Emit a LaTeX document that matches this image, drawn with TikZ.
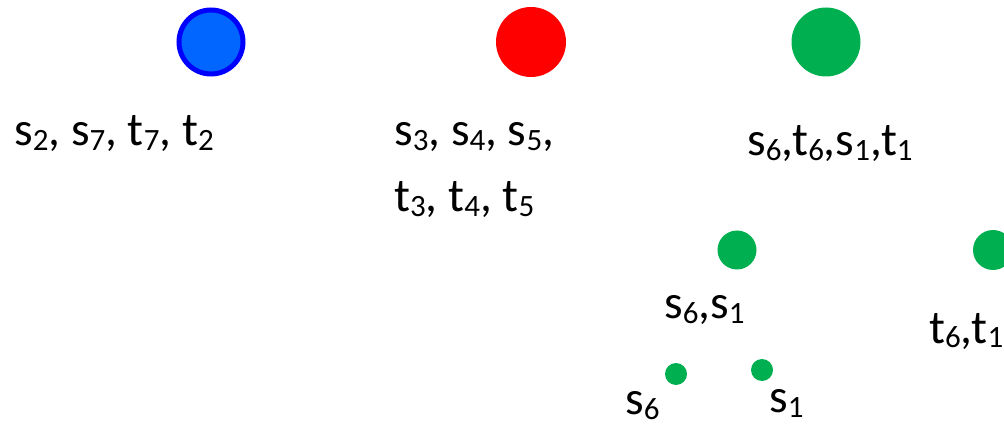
\documentclass[tikz,border=0pt]{standalone}
\usepackage{fontspec}
\setmainfont{Carlito}
\usepackage{xcolor}
\usepackage{tikz}
\usetikzlibrary{positioning}
\definecolor{dotblue}{HTML}{0066FF}
\definecolor{rimblue}{HTML}{0000FF}
\definecolor{dotred}{HTML}{FF0000}
\definecolor{dotgreen}{HTML}{00B050}
\newcommand{\subtxt}[1]{\raisebox{-5pt}{\fontsize{31}{31}\selectfont #1}}
\tikzset{
  dot/.style={circle, inner sep=0pt, draw=none},
  lbl/.style={anchor=base west, inner sep=0pt, font=\fontsize{47.5}{56}\selectfont}
}

\begin{document}
\begin{tikzpicture}[x=1pt,y=-1pt]
\useasboundingbox (0,0) rectangle (1004,430);
\node[dot,fill=dotblue,draw=rimblue,line width=5pt,minimum size=64pt] (blue) at (211,42) {};
\node[dot,fill=dotred,minimum size=70pt] (red) at (531,42) {};
\node[dot,fill=dotgreen,minimum size=69pt] (green) at (826,42) {};
\node[dot,fill=dotgreen,minimum size=39pt] (gs) at (737,250) {};
\node[dot,fill=dotgreen,minimum size=40pt] (gt) at (993,250) {};
\node[dot,fill=dotgreen,minimum size=22pt] (gsa) at (676,374) {};
\node[dot,fill=dotgreen,minimum size=22pt] (gsb) at (762,370) {};

\node[lbl] (bluelbl) at (14,146) {s\subtxt{2}, s\subtxt{7}, t\subtxt{7}, t\subtxt{2}};
\node[lbl] (redlbla) at (394,146) {s\subtxt{3}, s\subtxt{4}, s\subtxt{5},};
\node[lbl] (redlblb) at (394,212) {t\subtxt{3}, t\subtxt{4}, t\subtxt{5}};
\node[lbl] (greenlbl) at (747,156) {s\subtxt{6},t\subtxt{6},s\subtxt{1},t\subtxt{1}};
\node[lbl] (gslbl) at (664,319) {s\subtxt{6},s\subtxt{1}};
\node[lbl] (gtlbl) at (929,343) {t\subtxt{6},t\subtxt{1}};
\node[lbl] (gsalbl) at (625,414) {s\subtxt{6}};
\node[lbl] (gsblbl) at (769,412) {s\subtxt{1}};
\end{tikzpicture}
\end{document}
